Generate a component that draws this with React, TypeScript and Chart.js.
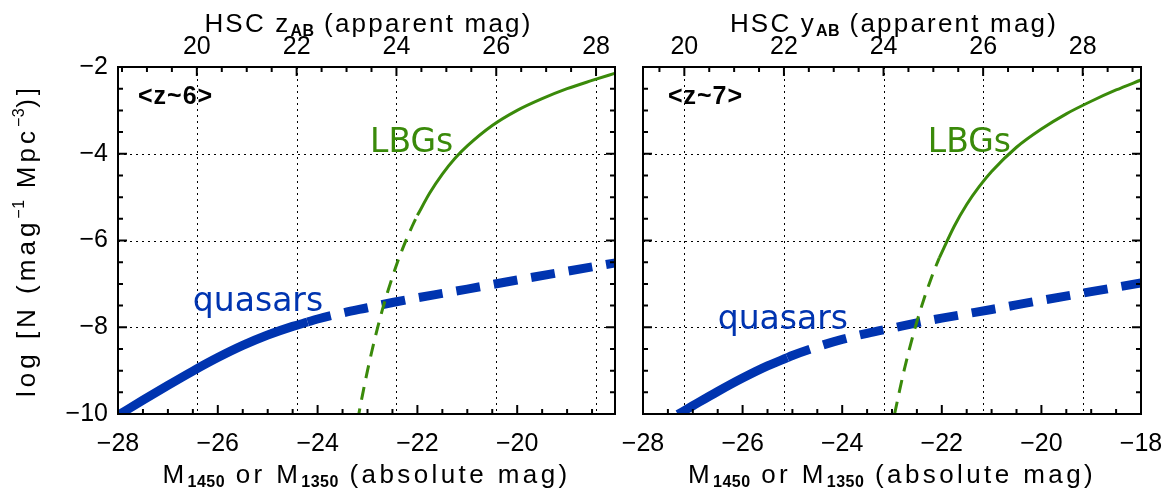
import React, { useEffect, useRef } from "react";
import { Chart, registerables } from "chart.js";

Chart.register(...registerables);

const CANVAS_W = 1169;
const CANVAS_H = 491;

// ---------- shared y axis ----------
const Y_RANGE = [-10, -2];
const Y_TICKS = [-10, -8, -6, -4, -2];

// ---------- z~6 panel ----------
const Z6_ABS_RANGE = [-28, -18.04];
const Z6_ABS_TICKS = [-28, -26, -24, -22, -20];
const Z6_APP_MINUS_ABS = 46.42;
const Z6_APP_TICKS = [20, 22, 24, 26, 28];

const Z6_QSO_SOLID_M = [-28, -27.5, -27, -26.5, -26, -25.5, -25, -24.5, -24.2];
const Z6_QSO_SOLID_LOGN = [-10.03, -9.68, -9.34, -9.01, -8.7, -8.42, -8.18, -7.98, -7.88];
const Z6_QSO_DASH_M = [-24.2, -24, -23.5, -23, -22.5, -22, -21.5, -21, -20, -19, -18];
const Z6_QSO_DASH_LOGN = [-7.88, -7.81, -7.67, -7.55, -7.43, -7.32, -7.22, -7.12, -6.91, -6.71, -6.51];

const Z6_LBG_DASH_M = [-23.2, -23.15, -23.1, -23.05, -23.0, -22.9, -22.8, -22.7, -22.6, -22.5, -22.4, -22.3, -22.2, -22.1, -22.0];
const Z6_LBG_DASH_LOGN = [-10.17, -9.85, -9.56, -9.27, -9.0, -8.49, -8.02, -7.59, -7.2, -6.84, -6.5, -6.2, -5.92, -5.66, -5.42];
const Z6_LBG_SOLID_M = [-22.0, -21.75, -21.5, -21.25, -21, -20.5, -20, -19.5, -19, -18.5, -18];
const Z6_LBG_SOLID_LOGN = [-5.42, -4.9, -4.47, -4.11, -3.82, -3.35, -3.0, -2.73, -2.5, -2.31, -2.13];

// ---------- z~7 panel ----------
const Z7_ABS_RANGE = [-28, -18];
const Z7_ABS_TICKS = [-28, -26, -24, -22, -20, -18];
const Z7_APP_MINUS_ABS = 47.17;
const Z7_APP_TICKS = [20, 22, 24, 26, 28];

const Z7_QSO_SOLID_M = [-27.3, -27, -26.5, -26, -25.5, -25.1];
const Z7_QSO_SOLID_LOGN = [-10.01, -9.81, -9.48, -9.17, -8.89, -8.7];
const Z7_QSO_DASH_M = [-25.1, -25, -24.5, -24, -23.5, -23, -22.5, -22, -21.5, -21, -20, -19, -18];
const Z7_QSO_DASH_LOGN = [-8.7, -8.65, -8.45, -8.28, -8.14, -8.02, -7.9, -7.79, -7.69, -7.59, -7.38, -7.18, -6.98];

const Z7_LBG_DASH_M = [-22.95, -22.9, -22.85, -22.75, -22.65, -22.55, -22.45, -22.35, -22.25, -22.15, -22.05];
const Z7_LBG_DASH_LOGN = [-10.01, -9.74, -9.47, -8.96, -8.5, -8.07, -7.68, -7.32, -6.99, -6.68, -6.4];
const Z7_LBG_SOLID_M = [-22.05, -21.75, -21.5, -21.25, -21, -20.5, -20, -19.5, -19, -18.5, -18];
const Z7_LBG_SOLID_LOGN = [-6.4, -5.67, -5.17, -4.76, -4.41, -3.85, -3.43, -3.08, -2.79, -2.53, -2.3];

// ---------- styles ----------
const BLUE = "#0034b0";
const GREEN = "#3a8a0a";
const TICK_FONT = "Liberation Sans";
const TITLE_FONT = "Liberation Sans";
const LABEL_FONT = "DejaVu Sans";
const TITLE_SIZE = 26;

type Seg = { t: string; kind?: "sub" | "sup" };

const fmt = (v: number) => (v < 0 ? "\u2212" + Math.abs(v) : String(v));
const pts = (xs: number[], ys: number[]) => xs.map((x, i) => ({ x, y: ys[i] }));

function segFont(kind: string | undefined, size: number, family: string) {
  if (kind === "sub") return `bold ${Math.round(size * 0.6)}px "${family}"`;
  if (kind === "sup") return `${Math.round(size * 0.62)}px "${family}"`;
  return `${size}px "${family}"`;
}
function segShift(kind: string | undefined, size: number) {
  if (kind === "sub") return size * 0.14;
  if (kind === "sup") return -size * 0.42;
  return 0;
}

function drawRich(
  ctx: CanvasRenderingContext2D,
  segs: Seg[],
  cx: number,
  baseline: number,
  size: number,
  family: string,
  spacing: number,
  rotate = 0
) {
  ctx.save();
  ctx.translate(cx, baseline);
  if (rotate) ctx.rotate(rotate);
  ctx.textBaseline = "alphabetic";
  ctx.textAlign = "left";
  ctx.fillStyle = "#000";
  const widths = segs.map((s) => {
    ctx.font = segFont(s.kind, size, family);
    (ctx as any).letterSpacing = `${s.kind ? 0.5 : spacing}px`;
    return ctx.measureText(s.t).width;
  });
  let x = -widths.reduce((a, b) => a + b, 0) / 2;
  segs.forEach((s, i) => {
    ctx.font = segFont(s.kind, size, family);
    (ctx as any).letterSpacing = `${s.kind ? 0.5 : spacing}px`;
    ctx.fillText(s.t, x, segShift(s.kind, size));
    x += widths[i];
  });
  ctx.restore();
}

const decoPlugin = {
  id: "panelDeco",
  beforeDatasetsDraw(chart: any, _args: any, o: any) {
    const { ctx, chartArea: a, scales } = chart;
    ctx.save();
    ctx.strokeStyle = "#000";
    ctx.lineWidth = 1;
    ctx.setLineDash([2, 4]);
    for (const v of o.appTicks) {
      const x = Math.round(scales.x2.getPixelForValue(v)) + 0.5;
      if (x <= a.left + 1 || x >= a.right - 1) continue;
      ctx.beginPath();
      ctx.moveTo(x, a.top);
      ctx.lineTo(x, a.bottom);
      ctx.stroke();
    }
    for (const v of Y_TICKS) {
      const y = Math.round(scales.y.getPixelForValue(v)) + 0.5;
      if (y <= a.top + 1 || y >= a.bottom - 1) continue;
      ctx.beginPath();
      ctx.moveTo(a.left, y);
      ctx.lineTo(a.right, y);
      ctx.stroke();
    }
    ctx.restore();
  },
  afterDatasetsDraw(chart: any, _args: any, o: any) {
    const { ctx, chartArea: a, scales } = chart;
    ctx.save();
    ctx.strokeStyle = "#000";
    ctx.setLineDash([]);
    ctx.lineWidth = 2;
    const MAJ = 9;
    const MIN = 5;
    const hTicks = (scale: any, majors: number[], y0: number, dir: number) => {
      const start = Math.ceil(scale.min / 0.5 - 1e-6) * 0.5;
      for (let v = start; v <= scale.max + 1e-6; v += 0.5) {
        const isMaj = majors.some((m) => Math.abs(m - v) < 1e-6);
        const x = scale.getPixelForValue(v);
        ctx.beginPath();
        ctx.moveTo(x, y0);
        ctx.lineTo(x, y0 + dir * (isMaj ? MAJ : MIN));
        ctx.stroke();
      }
    };
    hTicks(scales.x, o.absTicks, a.bottom, -1);
    hTicks(scales.x2, o.appTicks, a.top, 1);
    for (let v = Y_RANGE[0]; v <= Y_RANGE[1] + 1e-6; v += 0.5) {
      const isMaj = Y_TICKS.some((m) => Math.abs(m - v) < 1e-6);
      const y = scales.y.getPixelForValue(v);
      const len = isMaj ? MAJ : MIN;
      ctx.beginPath();
      ctx.moveTo(a.left, y);
      ctx.lineTo(a.left + len, y);
      ctx.moveTo(a.right, y);
      ctx.lineTo(a.right - len, y);
      ctx.stroke();
    }
    ctx.lineWidth = 2;
    ctx.strokeRect(a.left, a.top, a.right - a.left, a.bottom - a.top);
    ctx.restore();

    const cx = (a.left + a.right) / 2;
    drawRich(ctx, o.topTitle, cx + 2, 32, TITLE_SIZE, TITLE_FONT, 2.2);
    drawRich(ctx, o.bottomTitle, cx, 483, TITLE_SIZE, TITLE_FONT, 3.4);
    if (o.yTitle) {
      drawRich(ctx, o.yTitle, 35, (a.top + a.bottom) / 2, TITLE_SIZE, TITLE_FONT, 4, -Math.PI / 2);
    }

    ctx.save();
    ctx.textBaseline = "alphabetic";
    ctx.textAlign = "left";
    for (const l of o.labels) {
      ctx.font = l.font;
      ctx.fillStyle = l.color;
      (ctx as any).letterSpacing = `${l.spacing || 0}px`;
      ctx.fillText(l.text, scales.x.getPixelForValue(l.M), scales.y.getPixelForValue(l.N));
    }
    ctx.restore();
  },
};

type PanelSpec = {
  absRange: number[];
  absTicks: number[];
  appOffset: number;
  appTicks: number[];
  yAxisWidth: number;
  padRight: number;
  showYLabels: boolean;
  qsoSolid: { x: number; y: number }[];
  qsoDash: { x: number; y: number }[];
  lbgSolid: { x: number; y: number }[];
  lbgDash: { x: number; y: number }[];
  deco: any;
};

function makeConfig(p: PanelSpec): any {
  const tickFont = { family: TICK_FONT, size: 25 };
  const line = (data: any[], color: string, width: number, dash: number[]) => ({
    data,
    borderColor: color,
    backgroundColor: color,
    borderWidth: width,
    borderDash: dash,
    borderCapStyle: "butt",
    pointRadius: 0,
    fill: false,
    cubicInterpolationMode: "monotone",
  });
  return {
    type: "line",
    data: {
      datasets: [
        line(p.lbgDash, GREEN, 3, [13, 9]),
        line(p.lbgSolid, GREEN, 3, []),
        line(p.qsoSolid, BLUE, 9, []),
        line(p.qsoDash, BLUE, 9, [24, 14]),
      ],
    },
    options: {
      responsive: false,
      animation: false,
      events: [],
      layout: { padding: { left: 0, right: p.padRight, top: 0, bottom: 0 } },
      plugins: {
        legend: { display: false },
        tooltip: { enabled: false },
        title: { display: false },
        panelDeco: p.deco,
      },
      scales: {
        x: {
          type: "linear",
          position: "bottom",
          min: p.absRange[0],
          max: p.absRange[1],
          afterBuildTicks: (s: any) => {
            s.ticks = p.absTicks.map((v) => ({ value: v }));
          },
          afterFit: (s: any) => {
            s.height = CANVAS_H - 414;
            s.paddingLeft = 0;
            s.paddingRight = 0;
          },
          ticks: {
            callback: (v: number) => fmt(v),
            font: tickFont,
            color: "#000",
            padding: 15,
            maxRotation: 0,
            minRotation: 0,
            autoSkip: false,
          },
          grid: { display: false, drawTicks: false },
          border: { display: false },
        },
        x2: {
          type: "linear",
          position: "top",
          min: p.absRange[0] + p.appOffset,
          max: p.absRange[1] + p.appOffset,
          afterBuildTicks: (s: any) => {
            s.ticks = p.appTicks.map((v) => ({ value: v }));
          },
          afterFit: (s: any) => {
            s.height = 67;
            s.paddingLeft = 0;
            s.paddingRight = 0;
          },
          ticks: {
            callback: (v: number) => fmt(v),
            font: tickFont,
            color: "#000",
            padding: 5,
            maxRotation: 0,
            minRotation: 0,
            autoSkip: false,
          },
          grid: { display: false, drawTicks: false },
          border: { display: false },
        },
        y: {
          type: "linear",
          position: "left",
          min: Y_RANGE[0],
          max: Y_RANGE[1],
          afterBuildTicks: (s: any) => {
            s.ticks = Y_TICKS.map((v) => ({ value: v }));
          },
          afterFit: (s: any) => {
            s.width = p.yAxisWidth;
            s.paddingTop = 0;
            s.paddingBottom = 0;
          },
          ticks: {
            display: p.showYLabels,
            callback: (v: number) => fmt(v),
            font: tickFont,
            color: "#000",
            padding: 10,
          },
          grid: { display: false, drawTicks: false },
          border: { display: false },
        },
      },
    },
    plugins: [decoPlugin],
  };
}

const Z6_SPEC: PanelSpec = {
  absRange: Z6_ABS_RANGE,
  absTicks: Z6_ABS_TICKS,
  appOffset: Z6_APP_MINUS_ABS,
  appTicks: Z6_APP_TICKS,
  yAxisWidth: 118,
  padRight: CANVAS_W - 615,
  showYLabels: true,
  qsoSolid: pts(Z6_QSO_SOLID_M, Z6_QSO_SOLID_LOGN),
  qsoDash: pts(Z6_QSO_DASH_M, Z6_QSO_DASH_LOGN),
  lbgSolid: pts(Z6_LBG_SOLID_M, Z6_LBG_SOLID_LOGN),
  lbgDash: pts(Z6_LBG_DASH_M, Z6_LBG_DASH_LOGN),
  deco: {
    absTicks: Z6_ABS_TICKS,
    appTicks: Z6_APP_TICKS,
    topTitle: [{ t: "HSC z" }, { t: "AB", kind: "sub" }, { t: " (apparent mag)" }],
    bottomTitle: [
      { t: "M" },
      { t: "1450", kind: "sub" },
      { t: " or M" },
      { t: "1350", kind: "sub" },
      { t: " (absolute mag)" },
    ],
    yTitle: [{ t: "log [N (mag" }, { t: "\u22121", kind: "sup" }, { t: " Mpc" }, { t: "\u22123", kind: "sup" }, { t: ")]" }],
    labels: [
      { text: "<z~6>", M: -27.6, N: -2.86, font: `bold 25px "${TITLE_FONT}"`, color: "#000", spacing: 1 },
      { text: "LBGs", M: -22.95, N: -3.96, font: `33px "${LABEL_FONT}"`, color: GREEN },
      { text: "quasars", M: -26.5, N: -7.63, font: `33px "${LABEL_FONT}"`, color: BLUE },
    ],
  },
};

const Z7_SPEC: PanelSpec = {
  absRange: Z7_ABS_RANGE,
  absTicks: Z7_ABS_TICKS,
  appOffset: Z7_APP_MINUS_ABS,
  appTicks: Z7_APP_TICKS,
  yAxisWidth: 643,
  padRight: CANVAS_W - 1141,
  showYLabels: false,
  qsoSolid: pts(Z7_QSO_SOLID_M, Z7_QSO_SOLID_LOGN),
  qsoDash: pts(Z7_QSO_DASH_M, Z7_QSO_DASH_LOGN),
  lbgSolid: pts(Z7_LBG_SOLID_M, Z7_LBG_SOLID_LOGN),
  lbgDash: pts(Z7_LBG_DASH_M, Z7_LBG_DASH_LOGN),
  deco: {
    absTicks: Z7_ABS_TICKS,
    appTicks: Z7_APP_TICKS,
    topTitle: [{ t: "HSC y" }, { t: "AB", kind: "sub" }, { t: " (apparent mag)" }],
    bottomTitle: [
      { t: "M" },
      { t: "1450", kind: "sub" },
      { t: " or M" },
      { t: "1350", kind: "sub" },
      { t: " (absolute mag)" },
    ],
    yTitle: null,
    labels: [
      { text: "<z~7>", M: -27.5, N: -2.86, font: `bold 25px "${TITLE_FONT}"`, color: "#000", spacing: 1 },
      { text: "LBGs", M: -22.28, N: -3.96, font: `33px "${LABEL_FONT}"`, color: GREEN },
      { text: "quasars", M: -26.5, N: -8.04, font: `33px "${LABEL_FONT}"`, color: BLUE },
    ],
  },
};

function Panel({ spec }: { spec: PanelSpec }) {
  const ref = useRef<HTMLCanvasElement | null>(null);
  useEffect(() => {
    if (!ref.current) return;
    const chart = new Chart(ref.current, makeConfig(spec));
    return () => chart.destroy();
  }, [spec]);
  return (
    <canvas
      ref={ref}
      width={CANVAS_W}
      height={CANVAS_H}
      style={{ position: "absolute", left: 0, top: 0, width: CANVAS_W, height: CANVAS_H }}
    />
  );
}

export default function App() {
  return (
    <div
      style={{
        position: "fixed",
        left: 0,
        top: 0,
        width: CANVAS_W,
        height: CANVAS_H,
        background: "#fff",
        overflow: "hidden",
      }}
    >
      <Panel spec={Z6_SPEC} />
      <Panel spec={Z7_SPEC} />
    </div>
  );
}
